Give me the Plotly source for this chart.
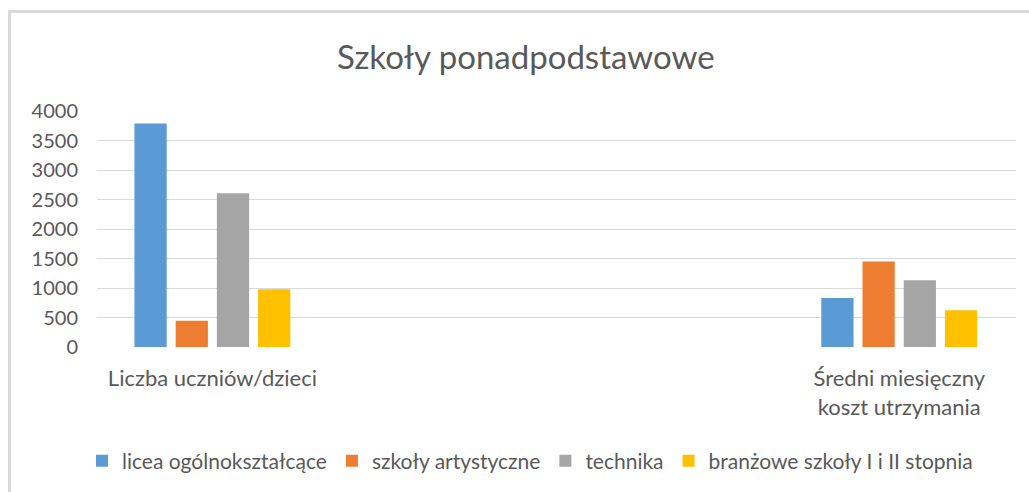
import plotly.graph_objects as go

# Chart data
categories = ["Liczba uczniów/dzieci", "Średni miesięczny koszt utrzymania"]
category_labels = ["Liczba uczniów/dzieci", "Średni miesięczny<br>koszt utrzymania"]
series_names = ["licea ogólnokształcące", "szkoły artystyczne", "technika",
                "branżowe szkoły I i II stopnia"]
licea = [3790, 830]
artystyczne = [445, 1450]
technika = [2605, 1130]
branzowe = [980, 625]
series_values = [licea, artystyczne, technika, branzowe]
colors = ["#5B9BD5", "#ED7D31", "#A5A5A5", "#FFC000"]
y_ticks = [0, 500, 1000, 1500, 2000, 2500, 3000, 3500, 4000]

TEXT = "#595959"
GRID = "#D9D9D9"
FONT = "Lato"

W, H = 1029, 492
ML, MR, MT, MB = 97, 13, 111, 145
plot_w = W - ML - MR
plot_h = H - MT - MB

fig = go.Figure()
for name, vals, col in zip(series_names, series_values, colors):
    fig.add_trace(go.Bar(
        x=list(range(len(categories))), y=vals, name=name,
        marker=dict(color=col, line=dict(width=0)),
    ))

# outer chart frame (paper coordinates from pixel positions)
def px_x(px):
    return (px - ML) / plot_w

def px_y(py):
    return (H - MB - py) / plot_h

fig.add_shape(type="rect", xref="paper", yref="paper",
              x0=px_x(9.5), x1=px_x(1045), y0=px_y(505), y1=px_y(11.5),
              line=dict(color=GRID, width=3), fillcolor="rgba(0,0,0,0)",
              layer="below")

fig.update_layout(
    width=W, height=H,
    margin=dict(l=ML, r=MR, t=MT, b=MB, autoexpand=False),
    paper_bgcolor="white", plot_bgcolor="white",
    barmode="group", bargap=0.76, bargroupgap=0.218,
    font=dict(family=FONT, color=TEXT, size=19),
    title=dict(text="Szkoły ponadpodstawowe", x=0.511, xref="container",
               xanchor="center", y=1 - 57 / H, yref="container",
               yanchor="middle", font=dict(family=FONT, size=33, color=TEXT)),
    showlegend=True,
    legend=dict(orientation="h", x=(530 - ML) / plot_w, xanchor="center",
                y=px_y(461), yanchor="middle", font=dict(size=21, color=TEXT),
                traceorder="normal", itemwidth=30),
    xaxis=dict(range=[-0.168, 1.17], tickmode="array",
               tickvals=list(range(len(categories))), ticktext=category_labels,
               showgrid=False, zeroline=False, showline=False, ticks="",
               tickfont=dict(size=22, color=TEXT), ticklabelstandoff=16),
    yaxis=dict(range=[0, 4000], tickmode="array", tickvals=y_ticks,
               showgrid=True, gridcolor=GRID, gridwidth=1, zeroline=False,
               showline=False, ticks="", tickfont=dict(size=20, color=TEXT),
               ticklabelstandoff=18),
)

fig.write_html("out.html")
